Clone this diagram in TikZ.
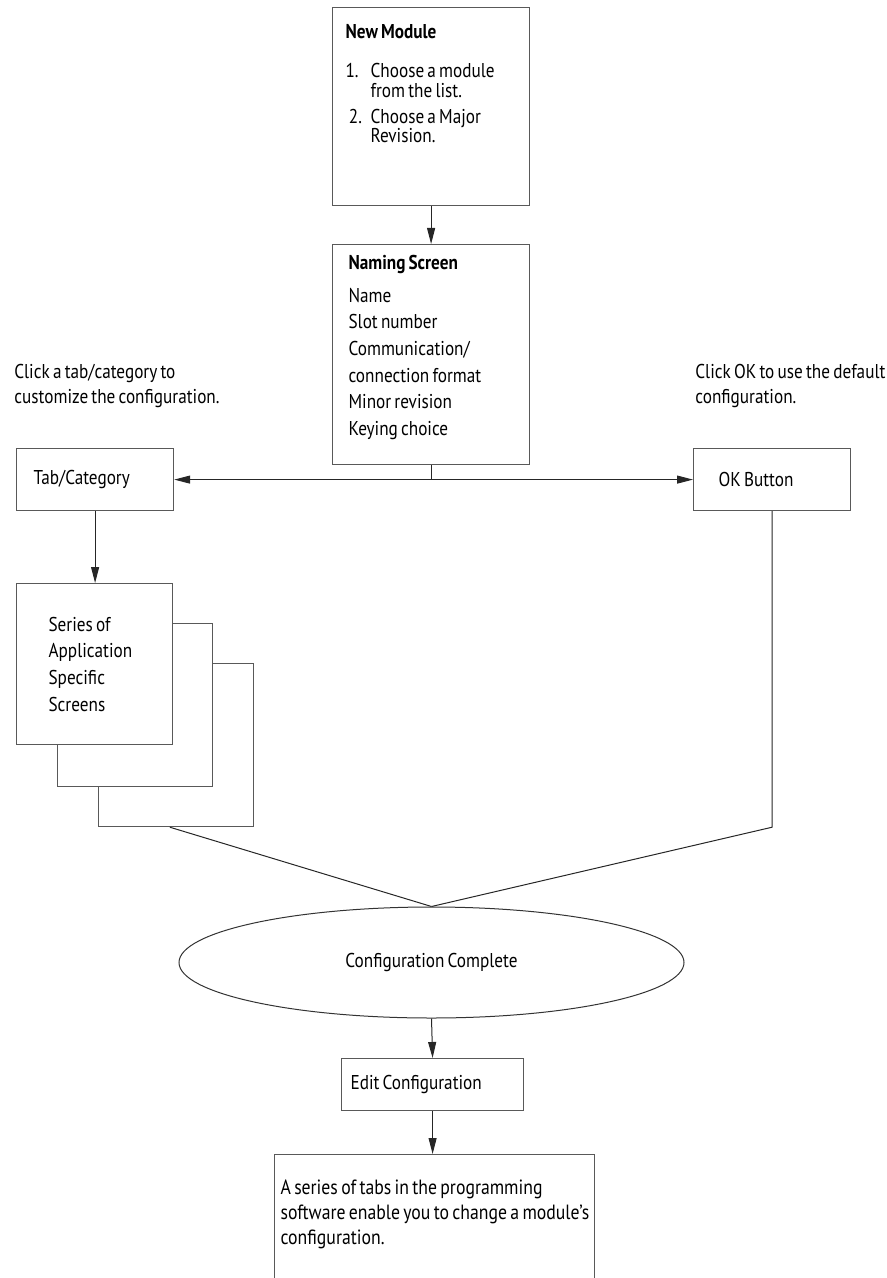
\documentclass[tikz,border=0pt]{standalone}
\usepackage{fontspec}
\setmainfont{PT Sans}[FakeStretch=0.86,WordSpace=0.7]
\usepackage{tikz}
\usetikzlibrary{arrows.meta,positioning,shapes.geometric,calc}

\newcommand{\diafont}{\fontsize{10}{13.3}\selectfont}
\newcommand{\hintfont}{\fontsize{10}{12.5}\selectfont}

\begin{document}
\begin{tikzpicture}[
  x=0.5pt,y=-0.5pt,
  box/.style={draw=black!65,line width=0.6pt,fill=white,anchor=north west,
              inner ysep=0pt,font=\diafont},
  tbox/.style={box,align=flush left},
  hint/.style={align=flush left,inner sep=0pt,anchor=west,font=\hintfont},
  line/.style={draw=black!85,line width=0.5pt},
  arr/.style={line,-{Triangle[length=8pt,width=4pt]}},
  biarr/.style={line,{Triangle[length=8pt,width=4pt]}-{Triangle[length=8pt,width=4pt]}}
]
\useasboundingbox (0,0) rectangle (887,1278);
\clip (0,0) rectangle (887,1278);

% top of the flow
\node[box,inner xsep=6.5pt] (newmod) at (332,7) {\parbox[c][99pt][t]{85.5pt}{%
  \fontsize{10}{9.7}\selectfont\vspace*{8.6pt}%
  \textbf{New Module}\\[9.8pt]
  \makebox[12.5pt][l]{1.}Choose a module\\
  \hspace*{12.5pt}from the list.\\[3.3pt]
  \makebox[12.5pt][l]{\,2.}Choose a Major\\
  \hspace*{12.5pt}Revision.}};
\node[box,inner xsep=8pt] (naming) at (332,244) {\parbox[c][110pt][t]{82.5pt}{%
  \vspace*{5.2pt}%
  \textbf{Naming Screen}\\[3.2pt]
  Name\\
  Slot number\\
  Communication/\\
  connection format\\
  Minor revision\\
  Keying choice}};

% the two choices
\node[hint] (tabhint) at (14,385.5) {Click a tab/category to\\customize the configuration.};
\node[hint] (okhint) at (695,385.5) {Click OK to use the default\\configuration.};
\node[tbox,inner xsep=8.5pt,text width=61.5pt,minimum height=31pt] (tab) at (16,448) {Tab/Category};
\node[tbox,inner xsep=12.5pt,text width=53.5pt,minimum height=31pt] (ok) at (693,448) {OK Button};

% stacked screens
\node[box,minimum width=77.5pt,minimum height=81.5pt] (series3) at (98,663) {};
\node[box,minimum width=77.5pt,minimum height=81.5pt] (series2) at (57,623) {};
\node[tbox,inner xsep=16pt,text width=46pt,minimum height=80.5pt] (series) at (16,583)
  {Series of\\Application\\Specific\\Screens};

% end of the flow
\node[ellipse,draw=black!80,line width=0.5pt,fill=white,inner sep=0pt,
      minimum width=252.5pt,minimum height=55.5pt,font=\diafont] (done) at (431.5,962.5)
  {Configuration Complete};
\node[tbox,inner xsep=4.5pt,text width=82pt,minimum height=26pt] (edit) at (341,1058)
  {Edit Configuration};
\node[box,inner xsep=3pt] (note) at (274,1154) {\parbox[c][80pt][t]{154pt}{%
  \fontsize{10.3}{12.5}\selectfont\vspace*{12.6pt}%
  \mbox{A series of tabs in the programming}\\
  \mbox{software enable you to change a module’s}\\
  \mbox{configuration.}}};

\coordinate (split) at (naming.south |- tab.east);
\draw[arr] (newmod.south) -- (naming.north);
\draw[line] (naming.south) -- (split);
\draw[biarr] (tab.east) -- (ok.west);
\draw[arr] (tab.south) -- (tab.south |- series.north);
\draw[line] ($(series3.south west)!0.46!(series3.south east)$) -- (done.north);
\draw[line] (ok.south) -- (ok.south |- series3.south) -- (done.north);
\draw[arr] (done.south) -- (edit.north);
\draw[arr] (edit.south) -- (edit.south |- note.north);
\end{tikzpicture}
\end{document}
